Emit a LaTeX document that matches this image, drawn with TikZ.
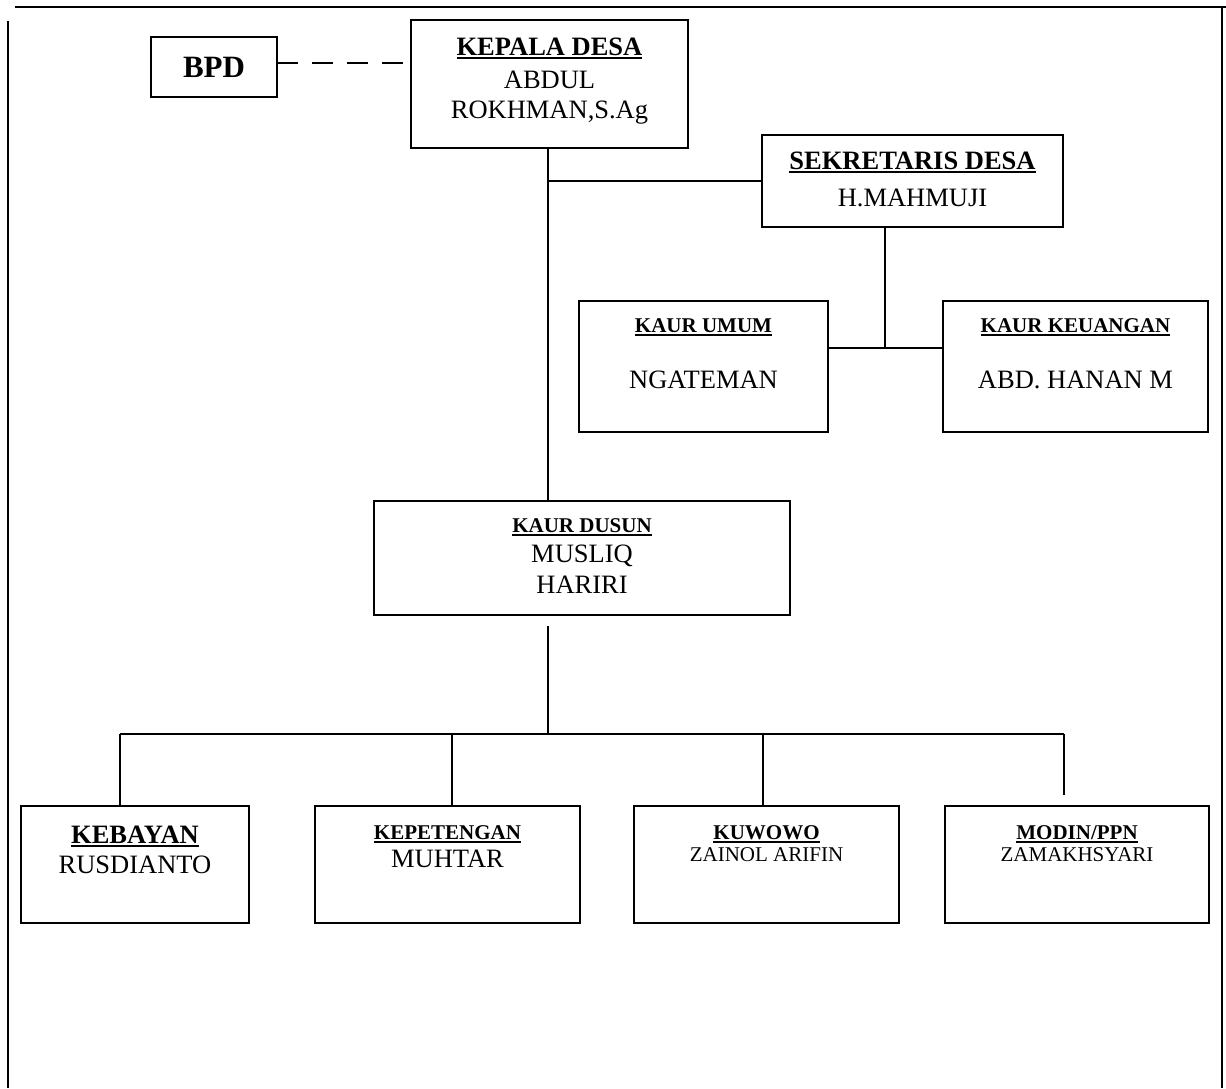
\documentclass[tikz,border=0pt]{standalone}
\usepackage{fontspec}
\setmainfont{Liberation Serif}
\newcommand\fbig{\fontsize{26.5}{30}\selectfont}
\newcommand\fsmall{\fontsize{21}{24}\selectfont}
\newcommand\fbpd{\fontsize{31}{36}\selectfont}
\newcommand{\orgbox}[5]{\node[box, minimum width={(#4)-(#2)}, minimum height={(#5)-(#3)}] (#1) at ({((#2)+(#4))/2},{((#3)+(#5))/2}) {};}
\newcommand{\tline}[5]{\node[txt, font=#2] (#1) at (#3,#4) {#5};}
\newcommand{\uline}[2]{\draw[ul] ([yshift=-3pt]#2.base west) -- ([yshift=-3pt]#2.base east);}
\begin{document}
\begin{tikzpicture}[x=1pt,y=-1pt,
  box/.style={draw, line width=2.2pt, inner sep=0pt, outer sep=0pt},
  txt/.style={anchor=base, inner sep=0pt, outer sep=0pt, text=black},
  ln/.style={line width=1.7pt},
  ul/.style={line width=1.7pt},
  frame/.style={line width=2.2pt}]
\useasboundingbox (0,0) rectangle (1226,1088);
% frame
\draw[frame] (15,7) -- (1226,7);
\draw[frame] (8,21) -- (8,1088);
\draw[frame] (1222,7) -- (1222,1088);
% boxes
\orgbox{bpd}{151}{37}{277}{97}
\orgbox{kades}{411}{20}{688}{148}
\orgbox{sek}{762}{135}{1063}{227}
\orgbox{kumum}{579}{301}{828}{432}
\orgbox{kkeu}{943}{301}{1208}{432}
\orgbox{kdusun}{374}{501}{790}{615}
\orgbox{keb}{21}{806}{249}{923}
\orgbox{kep}{315}{806}{580}{923}
\orgbox{kuw}{634}{806}{899}{923}
\orgbox{mod}{945}{806}{1209}{923}
% texts
\tline{bpdt}{\bfseries\fbpd}{214}{77}{BPD}
\tline{kadest}{\bfseries\fbig}{549.5}{55}{KEPALA DESA}
\tline{kadesa}{\fbig}{549.5}{88}{ABDUL}
\tline{kadesb}{\fbig}{549.5}{118}{ROKHMAN,S.Ag}
\tline{sekt}{\bfseries\fbig}{912.5}{169}{SEKRETARIS DESA}
\tline{sekn}{\fbig}{912.5}{206}{H.MAHMUJI}
\tline{kumumt}{\bfseries\fsmall}{703.5}{332}{KAUR UMUM}
\tline{kumumn}{\fbig}{703.5}{388}{NGATEMAN}
\tline{kkeut}{\bfseries\fsmall}{1075.5}{332}{KAUR KEUANGAN}
\tline{kkeun}{\fbig}{1075.5}{388}{ABD. HANAN M}
\tline{kdusunt}{\bfseries\fsmall}{582}{532}{KAUR DUSUN}
\tline{kdusuna}{\fbig}{582}{562}{MUSLIQ}
\tline{kdusunb}{\fbig}{582}{593}{HARIRI}
\tline{kebt}{\bfseries\fbig}{135}{843}{KEBAYAN}
\tline{kebn}{\fbig}{135}{873}{RUSDIANTO}
\tline{kept}{\bfseries\fsmall}{447.5}{839}{KEPETENGAN}
\tline{kepn}{\fbig}{447.5}{867}{MUHTAR}
\tline{kuwt}{\bfseries\fsmall}{766.5}{839}{KUWOWO}
\tline{kuwn}{\fsmall}{766.5}{861}{ZAINOL ARIFIN}
\tline{modt}{\bfseries\fsmall}{1077}{839}{MODIN/PPN}
\tline{modn}{\fsmall}{1077}{861}{ZAMAKHSYARI}
% underlines
\uline{}{kadest}
\uline{}{sekt}
\uline{}{kumumt}
\uline{}{kkeut}
\uline{}{kdusunt}
\uline{}{kebt}
\uline{}{kept}
\uline{}{kuwt}
\uline{}{modt}
% connector points
\coordinate (main) at (548,148);
\coordinate (j1) at (885,348);
\coordinate (d0) at (548,626);
\coordinate (d1) at (548,734);
\coordinate (b1) at (120,734);
\coordinate (b2) at (452,734);
\coordinate (b3) at (763,734);
\coordinate (b4) at (1064,734);
\coordinate (b4e) at (1064,795);
% connectors
\draw[ln, dash pattern=on 21pt off 14pt] ([yshift=4pt]bpd.east) -- ([yshift=4pt]bpd.east -| kades.west);
\draw[ln] (main) -- (main |- kdusun.north);
\draw[ln] (main |- sek.west) -- (sek.west);
\draw[ln] (j1 |- sek.south) -- (j1);
\draw[ln] (kumum.east |- j1) -- (kkeu.west |- j1);
\draw[ln] (d0) -- (d1);
\draw[ln] (b1) -- (b4);
\draw[ln] (b1) -- (b1 |- keb.north);
\draw[ln] (b2) -- (b2 |- kep.north);
\draw[ln] (b3) -- (b3 |- kuw.north);
\draw[ln] (b4) -- (b4e);
\end{tikzpicture}
\end{document}
